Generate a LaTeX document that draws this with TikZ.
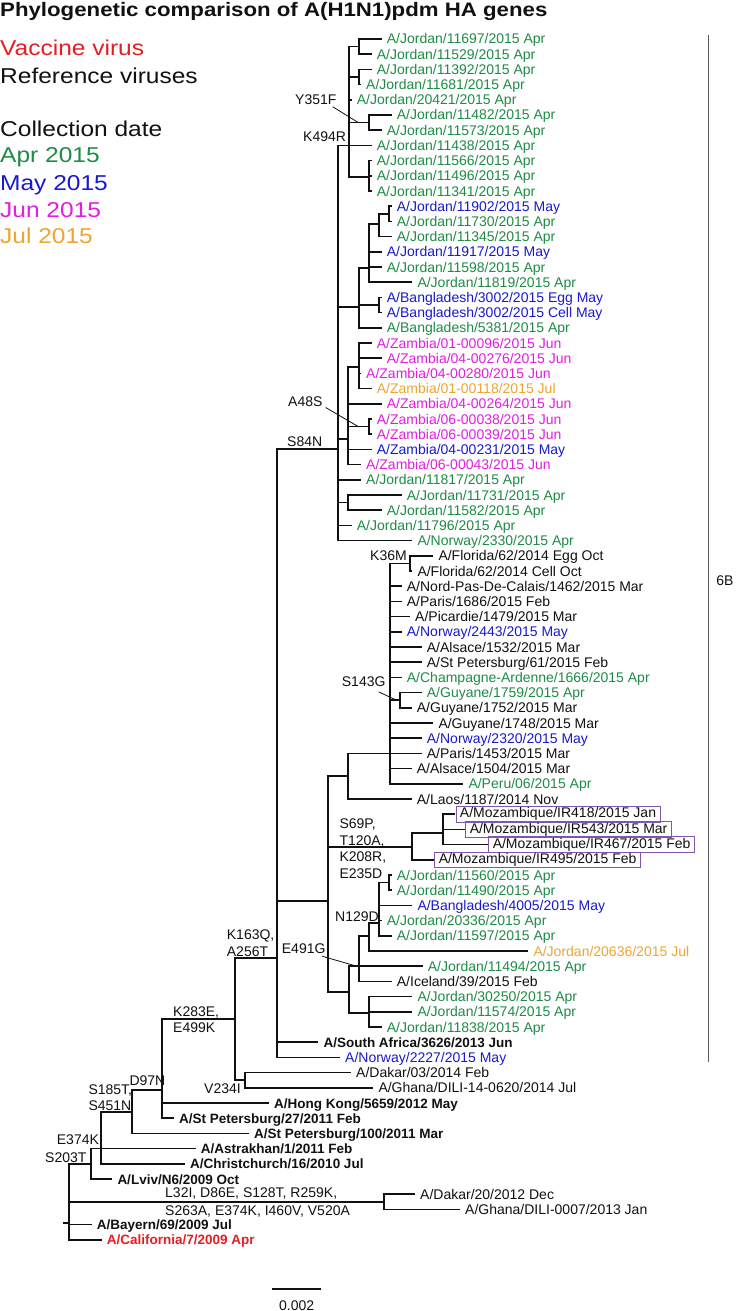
\documentclass[tikz,border=0pt]{standalone}
\usepackage{fontspec}
\setmainfont{Liberation Sans}
\newfontfamily\stretchfont[FakeStretch=1.14]{Liberation Sans}
\definecolor{cApr}{RGB}{30,140,70}
\definecolor{cMay}{RGB}{25,25,205}
\definecolor{cJun}{RGB}{225,30,225}
\definecolor{cJul}{RGB}{240,165,50}
\definecolor{cVac}{RGB}{230,30,35}
\definecolor{cBox}{RGB}{130,85,170}
\definecolor{cTxt}{RGB}{17,17,17}
\definecolor{cBar}{RGB}{90,90,90}
\begin{document}
\begin{tikzpicture}[x=1pt,y=-1pt,
 br/.style={line width=1.7pt, line cap=rect, draw=cTxt},
 lf/.style={anchor=west, inner sep=0pt, text height=10pt, text depth=0pt, font=\fontsize{14}{16}\selectfont, text=cTxt},
 lfb/.style={lf, font=\fontsize{13.5}{16}\selectfont\bfseries},
 bx/.style={lf, draw=cBox, line width=0.9pt, inner xsep=4pt, inner ysep=1pt, text height=10.5pt, text depth=3pt},
 mut/.style={anchor=west, inner sep=0pt, text height=10pt, text depth=0pt, font=\fontsize{14}{16}\selectfont, text=cTxt},
 mutb/.style={anchor=north west, inner sep=0pt, align=left, font=\fontsize{14}{16.5}\selectfont, text=cTxt},
 ptr/.style={line width=0.8pt, draw=cTxt},
 leg/.style={anchor=base west, inner sep=0pt, font=\stretchfont\fontsize{21.5}{24}\selectfont},
 toleaf/.style={br, shorten >=6pt},
 tobox/.style={br, shorten >=1.5pt}]
\fill[white] (0,0) rectangle (740,1311);
\useasboundingbox (0,0) rectangle (740,1311);

% title and legend
\node[anchor=base west, inner sep=0pt, text=cTxt, font=\stretchfont\bfseries\fontsize{19.5}{22}\selectfont] (title) at (0,17) {Phylogenetic comparison of A(H1N1)pdm HA genes};
\node[leg,text=cVac] (gVac) at (0,56) {Vaccine virus};
\node[leg,text=cTxt] (gRef) at (0,83.7) {Reference viruses};
\node[leg,text=cTxt] (gCol) at (0,136) {Collection date};
\node[leg,text=cApr] (gApr) at (0,162.7) {Apr 2015};
\node[leg,text=cMay] (gMay) at (0,190.4) {May 2015};
\node[leg,text=cJun] (gJun) at (0,217) {Jun 2015};
\node[leg,text=cJul] (gJul) at (0,243.7) {Jul 2015};

% internal nodes
\coordinate (rs) at (64.3,1223);
\coordinate (R) at (69,1223);
\coordinate (nS203T) at (90.7,1163.8);
\coordinate (nL32I) at (384,1201.8);
\coordinate (nE374K) at (100.7,1148.6);
\coordinate (nS185T) at (132.3,1111.7);
\coordinate (nD97N) at (162.3,1090);
\coordinate (nK283E) at (235.3,1019.3);
\coordinate (nV234I) at (245,1080.2);
\coordinate (nK163Q) at (276.7,958.3);
\coordinate (nS84N) at (338.3,449);
\coordinate (nB) at (328.3,901);
\coordinate (nK494R) at (349.3,145.4);
\coordinate (na) at (359.3,46.6);
\coordinate (nb) at (359.3,77);
\coordinate (nY351F) at (369.3,122.6);
\coordinate (nc) at (369.3,177);
\coordinate (nBG) at (359.3,306.7);
\coordinate (nd) at (369.3,268.3);
\coordinate (nf) at (379.3,224.3);
\coordinate (ng) at (389.3,213.8);
\coordinate (ne) at (379.3,305);
\coordinate (nZ) at (348.3,439.3);
\coordinate (nh) at (359.3,366.7);
\coordinate (nA48S) at (369.3,426.6);
\coordinate (nJ2) at (348.3,502.6);
\coordinate (nF) at (348.3,776);
\coordinate (nG) at (390,753.4);
\coordinate (nK36M) at (410,563.4);
\coordinate (nS143G) at (400,700.2);
\coordinate (nMZ) at (411.7,846.7);
\coordinate (nj) at (442.7,833.3);
\coordinate (nk) at (349.3,991.7);
\coordinate (nE491G) at (359.3,966.2);
\coordinate (nl) at (369.3,936);
\coordinate (nN129D) at (379.3,922.7);
\coordinate (nm) at (389.3,882.6);
\coordinate (ni) at (369.3,1013);

% leaves
\node[lf,text=cApr] (L0) at (386.7,39) {A/Jordan/11697/2015 Apr};
\node[lf,text=cApr] (L1) at (376.7,54.2) {A/Jordan/11529/2015 Apr};
\node[lf,text=cApr] (L2) at (376.7,69.4) {A/Jordan/11392/2015 Apr};
\node[lf,text=cApr] (L3) at (366,84.6) {A/Jordan/11681/2015 Apr};
\node[lf,text=cApr] (L4) at (356.7,99.8) {A/Jordan/20421/2015 Apr};
\node[lf,text=cApr] (L5) at (396.7,115) {A/Jordan/11482/2015 Apr};
\node[lf,text=cApr] (L6) at (386.7,130.2) {A/Jordan/11573/2015 Apr};
\node[lf,text=cApr] (L7) at (376.7,145.4) {A/Jordan/11438/2015 Apr};
\node[lf,text=cApr] (L8) at (376.7,160.6) {A/Jordan/11566/2015 Apr};
\node[lf,text=cApr] (L9) at (376.7,175.8) {A/Jordan/11496/2015 Apr};
\node[lf,text=cApr] (L10) at (376.7,191) {A/Jordan/11341/2015 Apr};
\node[lf,text=cMay] (L11) at (396.7,206.2) {A/Jordan/11902/2015 May};
\node[lf,text=cApr] (L12) at (396.7,221.4) {A/Jordan/11730/2015 Apr};
\node[lf,text=cApr] (L13) at (396.7,236.6) {A/Jordan/11345/2015 Apr};
\node[lf,text=cMay] (L14) at (386.7,251.8) {A/Jordan/11917/2015 May};
\node[lf,text=cApr] (L15) at (386.7,267) {A/Jordan/11598/2015 Apr};
\node[lf,text=cApr] (L16) at (417.3,282.2) {A/Jordan/11819/2015 Apr};
\node[lf,text=cMay] (L17) at (386.7,297.4) {A/Bangladesh/3002/2015 Egg May};
\node[lf,text=cMay] (L18) at (386.7,312.6) {A/Bangladesh/3002/2015 Cell May};
\node[lf,text=cApr] (L19) at (386.7,327.8) {A/Bangladesh/5381/2015 Apr};
\node[lf,text=cJun] (L20) at (376.7,343) {A/Zambia/01-00096/2015 Jun};
\node[lf,text=cJun] (L21) at (386.7,358.2) {A/Zambia/04-00276/2015 Jun};
\node[lf,text=cJun] (L22) at (366,373.4) {A/Zambia/04-00280/2015 Jun};
\node[lf,text=cJul] (L23) at (376.7,388.6) {A/Zambia/01-00118/2015 Jul};
\node[lf,text=cJun] (L24) at (386.7,403.8) {A/Zambia/04-00264/2015 Jun};
\node[lf,text=cJun] (L25) at (376.7,419) {A/Zambia/06-00038/2015 Jun};
\node[lf,text=cJun] (L26) at (376.7,434.2) {A/Zambia/06-00039/2015 Jun};
\node[lf,text=cMay] (L27) at (376.7,449.4) {A/Zambia/04-00231/2015 May};
\node[lf,text=cJun] (L28) at (366,464.6) {A/Zambia/06-00043/2015 Jun};
\node[lf,text=cApr] (L29) at (366,479.8) {A/Jordan/11817/2015 Apr};
\node[lf,text=cApr] (L30) at (406.7,495) {A/Jordan/11731/2015 Apr};
\node[lf,text=cApr] (L31) at (386.7,510.2) {A/Jordan/11582/2015 Apr};
\node[lf,text=cApr] (L32) at (356.7,525.4) {A/Jordan/11796/2015 Apr};
\node[lf,text=cApr] (L33) at (417.3,540.6) {A/Norway/2330/2015 Apr};
\node[lf] (L34) at (438.3,555.8) {A/Florida/62/2014 Egg Oct};
\node[lf] (L35) at (417.3,571) {A/Florida/62/2014 Cell Oct};
\node[lf] (L36) at (406.7,586.2) {A/Nord-Pas-De-Calais/1462/2015 Mar};
\node[lf] (L37) at (406.7,601.4) {A/Paris/1686/2015 Feb};
\node[lf] (L38) at (415,616.6) {A/Picardie/1479/2015 Mar};
\node[lf,text=cMay] (L39) at (406.7,631.8) {A/Norway/2443/2015 May};
\node[lf] (L40) at (426.7,647) {A/Alsace/1532/2015 Mar};
\node[lf] (L41) at (426.7,662.2) {A/St Petersburg/61/2015 Feb};
\node[lf,text=cApr] (L42) at (406.7,677.4) {A/Champagne-Ardenne/1666/2015 Apr};
\node[lf,text=cApr] (L43) at (426.7,692.6) {A/Guyane/1759/2015 Apr};
\node[lf] (L44) at (416.7,707.8) {A/Guyane/1752/2015 Mar};
\node[lf] (L45) at (438.3,723) {A/Guyane/1748/2015 Mar};
\node[lf,text=cMay] (L46) at (426.7,738.2) {A/Norway/2320/2015 May};
\node[lf] (L47) at (426.7,753.4) {A/Paris/1453/2015 Mar};
\node[lf] (L48) at (416.7,768.6) {A/Alsace/1504/2015 Mar};
\node[lf,text=cApr] (L49) at (468.3,783.8) {A/Peru/06/2015 Apr};
\node[lf] (L50) at (416.7,799) {A/Laos/1187/2014 Nov};
\node[bx] (L51) at (455.5,814.2) {A/Mozambique/IR418/2015 Jan};
\node[bx] (L52) at (465.3,829.4) {A/Mozambique/IR543/2015 Mar};
\node[bx] (L53) at (488.3,844.6) {A/Mozambique/IR467/2015 Feb};
\node[bx] (L54) at (434.3,859.8) {A/Mozambique/IR495/2015 Feb};
\node[lf,text=cApr] (L55) at (396.7,875) {A/Jordan/11560/2015 Apr};
\node[lf,text=cApr] (L56) at (396.7,890.2) {A/Jordan/11490/2015 Apr};
\node[lf,text=cMay] (L57) at (417.3,905.4) {A/Bangladesh/4005/2015 May};
\node[lf,text=cApr] (L58) at (386.7,920.6) {A/Jordan/20336/2015 Apr};
\node[lf,text=cApr] (L59) at (396.7,935.8) {A/Jordan/11597/2015 Apr};
\node[lf,text=cJul] (L60) at (533.3,951) {A/Jordan/20636/2015 Jul};
\node[lf,text=cApr] (L61) at (427.7,966.2) {A/Jordan/11494/2015 Apr};
\node[lf] (L62) at (396.7,981.4) {A/Iceland/39/2015 Feb};
\node[lf,text=cApr] (L63) at (417.3,996.6) {A/Jordan/30250/2015 Apr};
\node[lf,text=cApr] (L64) at (417.3,1011.8) {A/Jordan/11574/2015 Apr};
\node[lf,text=cApr] (L65) at (386.7,1027) {A/Jordan/11838/2015 Apr};
\node[lfb] (L66) at (323.3,1042.2) {A/South Africa/3626/2013 Jun};
\node[lf,text=cMay] (L67) at (345,1057.4) {A/Norway/2227/2015 May};
\node[lf] (L68) at (356,1072.6) {A/Dakar/03/2014 Feb};
\node[lf] (L69) at (378.3,1087.8) {A/Ghana/DILI-14-0620/2014 Jul};
\node[lfb] (L70) at (274,1103) {A/Hong Kong/5659/2012 May};
\node[lfb] (L71) at (179,1118.2) {A/St Petersburg/27/2011 Feb};
\node[lfb] (L72) at (254,1133.4) {A/St Petersburg/100/2011 Mar};
\node[lfb] (L73) at (200.7,1148.6) {A/Astrakhan/1/2011 Feb};
\node[lfb] (L74) at (190,1163.8) {A/Christchurch/16/2010 Jul};
\node[lfb] (L75) at (117.3,1179) {A/Lviv/N6/2009 Oct};
\node[lf] (L76) at (420,1194.2) {A/Dakar/20/2012 Dec};
\node[lf] (L77) at (465,1209.4) {A/Ghana/DILI-0007/2013 Jan};
\node[lfb] (L78) at (96.7,1224.6) {A/Bayern/69/2009 Jul};
\node[lfb,text=cVac] (L79) at (106.7,1239.8) {A/California/7/2009 Apr};

% internal branches
\draw[br] (rs) -- (R);
\foreach \p/\c in {R/nS203T, R/nL32I, nS203T/nE374K, nE374K/nS185T, nS185T/nD97N,
  nD97N/nK283E, nK283E/nK163Q, nK283E/nV234I, nK163Q/nS84N, nK163Q/nB,
  nS84N/nK494R, nK494R/na, nK494R/nb, nK494R/nY351F, nK494R/nc, nS84N/nBG,
  nBG/nd, nd/nf, nf/ng, nBG/ne, nS84N/nZ, nZ/nh, nZ/nA48S, nS84N/nJ2,
  nB/nF, nF/nG, nG/nK36M, nG/nS143G, nB/nMZ, nMZ/nj, nB/nk, nk/nE491G,
  nE491G/nl, nl/nN129D, nN129D/nm, nk/ni}
  \draw[br] (\p) |- (\c);

% leaf branches
\foreach \p/\c in {na/L0, na/L1, nb/L2, nb/L3, nK494R/L4, nY351F/L5, nY351F/L6,
  nK494R/L7, nc/L8, nc/L9, nc/L10, ng/L11, ng/L12, nf/L13, nd/L14, nd/L15, nd/L16,
  ne/L17, ne/L18, nBG/L19, nh/L20, nh/L21, nh/L22, nh/L23, nZ/L24, nA48S/L25,
  nA48S/L26, nZ/L27, nZ/L28, nS84N/L29, nJ2/L30, nJ2/L31, nS84N/L32, nS84N/L33,
  nK36M/L34, nK36M/L35, nG/L36, nG/L37, nG/L38, nG/L39, nG/L40, nG/L41, nG/L42,
  nS143G/L43, nS143G/L44, nG/L45, nG/L46, nG/L47, nG/L48, nG/L49, nF/L50,
  nm/L55, nm/L56, nN129D/L57, nN129D/L58, nN129D/L59, nl/L60, nE491G/L61,
  nE491G/L62, ni/L63, ni/L64, ni/L65, nK163Q/L66, nK163Q/L67, nV234I/L68,
  nV234I/L69, nD97N/L70, nD97N/L71, nS185T/L72, nE374K/L73, nE374K/L74,
  nS203T/L75, nL32I/L76, nL32I/L77, R/L78, R/L79}
  \draw[toleaf] (\p) |- (\c.west);
\foreach \p/\c in {nj/L51, nj/L52, nj/L53, nMZ/L54}
  \draw[tobox] (\p) |- (\c.west);

% mutation labels
\node[mut] (lK494R) at (303,136) {K494R};
\node[mut] (lY351F) at (295,100) {Y351F};
\node[mut] (lA48S) at (288,401.7) {A48S};
\node[mut] (lS84N) at (287,441.7) {S84N};
\node[mut] (lK36M) at (370,555.7) {K36M};
\node[mut] (lS143G) at (341.7,681.7) {S143G};
\node[mutb] (lS69P) at (339.3,818.7) {S69P,\\T120A,\\K208R,\\E235D};
\node[mut] (lN129D) at (335,916.7) {N129D};
\node[mut] (lE491G) at (281.7,948.3) {E491G};
\node[mutb] (lK163Q) at (226.7,929.7) {K163Q,\\A256T};
\node[mutb] (lK283E) at (173,1006.4) {K283E,\\E499K};
\node[mut] (lV234I) at (204,1088.3) {V234I};
\node[mut] (lD97N) at (129.3,1080) {D97N};
\node[mutb, font=\fontsize{14}{16}\selectfont] (lS185T) at (88.3,1084.7) {S185T,\\S451N};
\node[mut] (lE374K) at (56.7,1139.3) {E374K};
\node[mut] (lS203T) at (45,1157.3) {S203T};
\node[mutb, font=\fontsize{14}{17.4}\selectfont] (lL32I) at (165,1188) {L32I, D86E, S128T, R259K,\\S263A, E374K, I460V, V520A};

% pointer lines
\coordinate (pY) at (358.3,122.6);
\coordinate (pA) at (358.3,426.6);
\coordinate (pS) at (396.7,700.2);
\coordinate (pE) at (356.7,966.2);
\draw[ptr] ([xshift=-4pt,yshift=-1.5pt]lY351F.south east) -- (pY);
\draw[ptr] ([xshift=3pt,yshift=-0.6pt]lA48S.south east) -- (pA);
\draw[ptr] ([xshift=-7pt,yshift=-5pt]lS143G.south east) -- (pS);
\draw[ptr] ([xshift=-3.6pt,yshift=-2.7pt]lE491G.south east) -- (pE);

% clade bar
\coordinate (b1) at (708,35);
\coordinate (b2) at (708,1062);
\draw[line width=1pt, draw=cBar] (b1) -- (b2);
\node[inner sep=0pt, text height=10pt, text depth=0pt, font=\fontsize{14}{16}\selectfont, text=cTxt] (l6B) at (725,580) {6B};

% scale bar
\coordinate (s1) at (271.7,1289.3);
\coordinate (s2) at (320.7,1289.3);
\draw[line width=1.7pt, draw=cTxt] (s1) -- (s2);
\node[inner sep=0pt, text height=10pt, text depth=0pt, font=\fontsize{14}{16}\selectfont, text=cTxt] (lsc) at (296.7,1305) {0.002};
\end{tikzpicture}
\end{document}
